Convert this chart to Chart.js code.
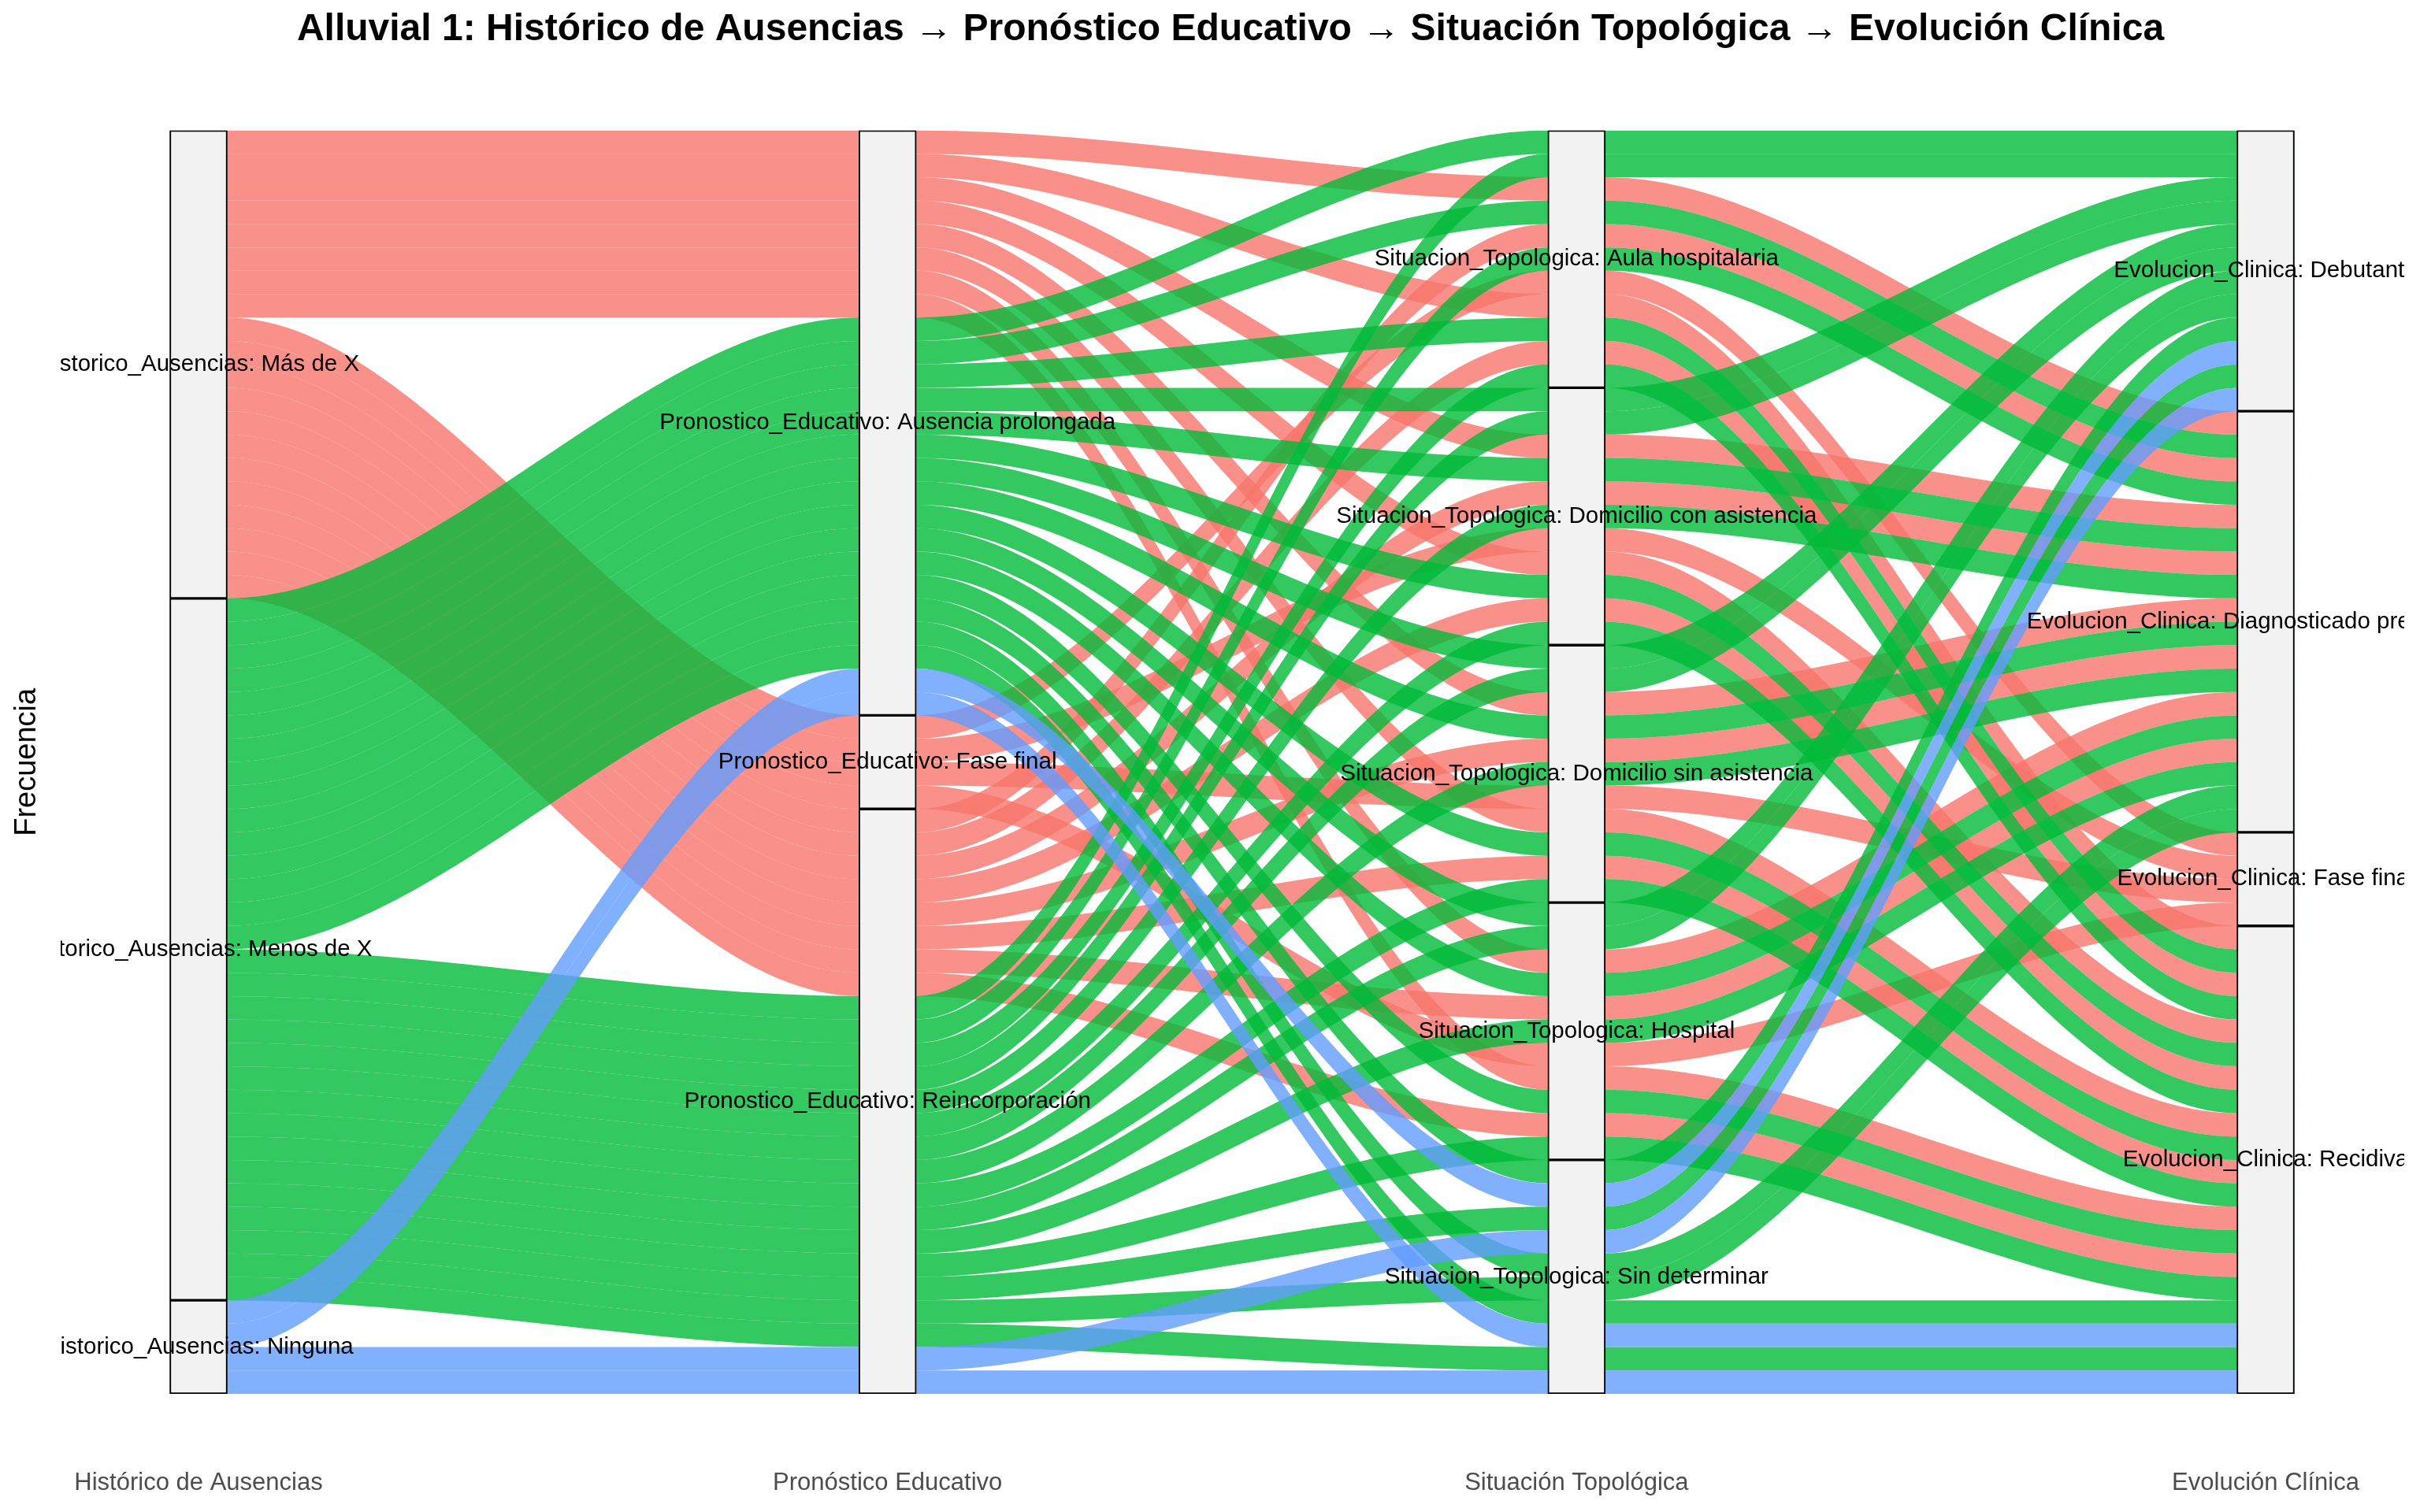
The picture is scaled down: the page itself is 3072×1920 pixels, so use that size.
<!DOCTYPE html>
<html lang="es">
<head>
<meta charset="utf-8">
<title>Alluvial 1</title>
<script src="https://cdn.jsdelivr.net/npm/chart.js@4.4.1/dist/chart.umd.min.js"></script>
<style>
  html, body { margin: 0; padding: 0; background: #fff; }
</style>
</head>
<body>
<canvas id="myChart" width="3072" height="1920"></canvas>
<script>
// --------------------- datos ----------------//
const ejes = ['Histórico de Ausencias', 'Pronóstico Educativo', 'Situación Topológica', 'Evolución Clínica'];
const variables = ['Historico_Ausencias', 'Pronostico_Educativo', 'Situacion_Topologica', 'Evolucion_Clinica'];

const nivelesHistorico = ['Más de X', 'Menos de X', 'Ninguna'];
const nivelesPronostico = ['Ausencia prolongada', 'Fase final', 'Reincorporación'];
const nivelesSituacion = ['Aula hospitalaria', 'Domicilio con asistencia', 'Domicilio sin asistencia', 'Hospital', 'Sin determinar'];
const nivelesEvolucion = ['Debutante', 'Diagnosticado previamente', 'Fase final', 'Recidiva'];

// un valor por caso (54 casos), indice dentro de los niveles de arriba
const casoHistorico = [
  1,1,0,1,0,1,0,0,1,0,1,
  1,1,0,1,0,1,0,0,1,0,1,
  1,1,0,1,0,1,0,0,1,0,1,
  1,1,0,1,0,1,0,0,1,0,1,
  1,2,1,2,1,1,1,2,1,2
];
const casoPronostico = [
  0,2,0,0,2,2,1,0,0,2,2,
  0,2,0,0,2,2,1,0,0,2,2,
  0,2,0,0,2,2,1,0,0,2,2,
  0,2,0,0,2,2,1,0,0,2,2,
  0,0,2,2,0,2,0,0,2,2
];
const casoSituacion = [
  0,0,0,0,0,0,0,0,0,0,0,
  1,1,1,1,1,1,1,1,1,1,1,
  2,2,2,2,2,2,2,2,2,2,2,
  3,3,3,3,3,3,3,3,3,3,3,
  4,4,4,4,4,4,4,4,4,4
];
const casoEvolucion = [
  0,0,1,1,1,1,2,3,3,3,3,
  0,0,1,1,1,1,2,3,3,3,3,
  0,0,1,1,1,1,2,3,3,3,3,
  0,0,1,1,1,1,2,3,3,3,3,
  0,0,0,0,1,1,3,3,3,3
];

const colores = ['rgba(248,118,109,0.8)', 'rgba(0,186,56,0.8)', 'rgba(97,156,255,0.8)'];

// --------------------- orden de los lodes (zigzag como ggalluvial) ----------------//
const columnas = [casoHistorico, casoPronostico, casoSituacion, casoEvolucion];
const niveles = [nivelesHistorico, nivelesPronostico, nivelesSituacion, nivelesEvolucion];
const n = casoHistorico.length;
const ordenClaves = [[0,1,2,3], [1,0,2,3], [2,3,1,0], [3,2,1,0]];

const rango = ordenClaves.map( claves => {
	const idx = [...Array(n).keys()].sort( (a, b) => {
		for (const k of claves) { const d = columnas[k][a] - columnas[k][b]; if (d) return d; }
		return a - b;
	});
	const r = new Array(n);
	idx.forEach( (c, i) => r[c] = i );
	return r;
});

// estratos (cajas grises)
const estratos = [];
columnas.forEach( (col, a) => {
	let inicio = 0;
	niveles[a].forEach( (nombre, l) => {
		const cuenta = col.filter( v => v == l ).length;
		if (cuenta > 0) {
			estratos.push({ x: a + 1, y: [inicio, inicio + cuenta], texto: `${variables[a]}: ${nombre}` });
			inicio += cuenta;
		}
	});
});

// --------------------- datasets ----------------//
const ANCHO = 0.0835;     // ancho del estrato en unidades del eje x
const PX_EJE = 874.67;    // pixeles entre dos ejes
const X_PRIMER_EJE = 252; // pixel del primer eje

const datasets = [{
	type: 'bar',
	data: estratos,
	backgroundColor: '#F2F2F2',
	borderColor: '#000000',
	borderWidth: 2,
	borderSkipped: false,
	barThickness: 73,
	grouped: false,
	order: 0
}];

for (let c = 0; c < n; c++) {
	const borde = k => [0,1,2,3].flatMap( a => [
		{ x: a + 1 - ANCHO / 2, y: rango[a][c] + k },
		{ x: a + 1 + ANCHO / 2, y: rango[a][c] + k }
	]);
	// rojo debajo, verde encima, azul arriba del todo
	const comun = { type: 'line', borderColor: 'rgba(0,0,0,0)', borderWidth: 0, pointRadius: 0,
		cubicInterpolationMode: 'monotone', order: 3 - casoHistorico[c] };
	datasets.push({ ...comun, data: borde(0), fill: false });
	datasets.push({ ...comun, data: borde(1), fill: '-1', backgroundColor: colores[casoHistorico[c]] });
}

// ajusta min/max del eje x al area final para que los ejes caigan en su sitio
const ajusteX = {
	id: 'ajusteX',
	afterLayout(chart) {
		const s = chart.scales.x;
		s.min = 1 - (X_PRIMER_EJE - s.left) / PX_EJE;
		s.max = s.min + (s.right - s.left) / PX_EJE;
		s.configure();
	}
};

// etiquetas de los estratos (recortadas al panel)
const etiquetas = {
	id: 'etiquetas',
	afterDatasetsDraw(chart) {
		const { ctx, chartArea: area, scales: { x, y } } = chart;
		ctx.save();
		ctx.beginPath();
		ctx.rect(area.left + 5, area.top - 40, area.right - area.left - 5, area.bottom - area.top + 80);
		ctx.clip();
		ctx.font = '29.5px "Liberation Sans", Arial, sans-serif';
		ctx.fillStyle = '#000000';
		ctx.textAlign = 'center';
		ctx.textBaseline = 'middle';
		estratos.forEach( e => {
			ctx.fillText(e.texto, x.getPixelForValue(e.x), y.getPixelForValue((e.y[0] + e.y[1]) / 2));
		});
		ctx.restore();
	}
};

const ctx = document.getElementById('myChart');
new Chart(ctx, {
	type: 'line',
	data: { datasets },
	plugins: [ajusteX, etiquetas],
	options: {
		responsive: false,
		animation: false,
		events: [],
		devicePixelRatio: 1,
		layout: { padding: { left: 0, top: 0, bottom: 0, right: 20 }, autoPadding: false },
		plugins: {
			legend: { display: false },
			tooltip: { enabled: false },
			title: {
				display: true,
				fullSize: false,
				text: 'Alluvial 1: Histórico de Ausencias → Pronóstico Educativo → Situación Topológica → Evolución Clínica',
				color: '#000000',
				font: { family: '"Liberation Sans", Arial, sans-serif', size: 48, weight: 'bold', lineHeight: 1.2 },
				padding: { top: 9, bottom: 99 }
			}
		},
		scales: {
			x: {
				type: 'linear',
				min: 0.79,
				max: 4.2,
				offset: false,
				grid: { display: false, drawTicks: false },
				border: { display: false },
				afterBuildTicks: s => { s.ticks = [1,2,3,4].map( v => ({ value: v }) ); },
				afterFit: s => { s.height = 150; s.paddingLeft = 0; s.paddingRight = 0; },
				ticks: {
					autoSkip: false,
					maxRotation: 0,
					padding: 95,
					color: '#4D4D4D',
					font: { family: '"Liberation Sans", Arial, sans-serif', size: 31 },
					callback: v => ejes[v - 1]
				}
			},
			y: {
				type: 'linear',
				min: 0,
				max: n,
				reverse: true,
				grid: { display: false },
				border: { display: false },
				ticks: { display: false },
				afterFit: s => { s.width = 72; },
				title: {
					display: true,
					text: 'Frecuencia',
					color: '#000000',
					font: { family: '"Liberation Sans", Arial, sans-serif', size: 38 },
					padding: { top: 12, bottom: 0 }
				}
			}
		}
	}
});
</script>
</body>
</html>
